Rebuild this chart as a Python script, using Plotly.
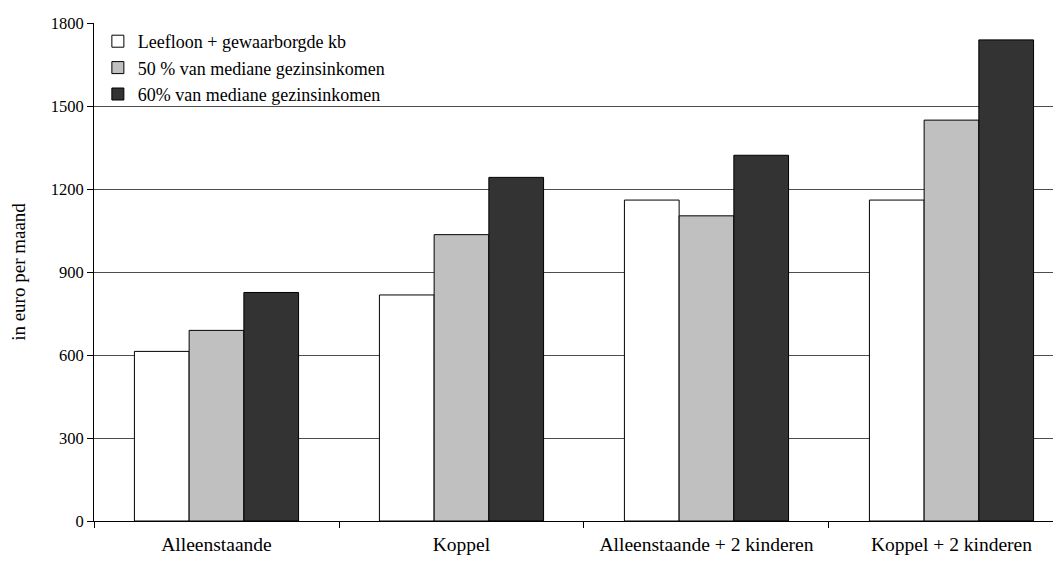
import plotly.graph_objects as go

categories = ["Alleenstaande", "Koppel", "Alleenstaande + 2 kinderen", "Koppel + 2 kinderen"]
series_names = ["Leefloon + gewaarborgde kb", "50 % van mediane gezinsinkomen", "60% van mediane gezinsinkomen"]
leefloon = [613, 817, 1160, 1160]
mediaan50 = [689, 1035, 1103, 1449]
mediaan60 = [826, 1242, 1322, 1739]
colors = ["#ffffff", "#c0c0c0", "#333333"]
y_ticks = [0, 300, 600, 900, 1200, 1500, 1800]

fig = go.Figure()
for name, vals, col in zip(series_names, [leefloon, mediaan50, mediaan60], colors):
    fig.add_trace(go.Bar(x=categories, y=vals, name=name, marker=dict(color=col, line=dict(color="#000000", width=1))))

font = "Liberation Serif, Times New Roman, serif"
fig.update_layout(
    width=1053, height=547,
    margin=dict(l=86, r=0, t=15, b=31),
    paper_bgcolor="white", plot_bgcolor="white",
    barmode="group", bargap=0.33, bargroupgap=0,
    font=dict(family=font, size=17, color="#000000"),
    showlegend=True,
    legend=dict(x=0.004, y=1.0, xanchor="left", yanchor="top", bgcolor="rgba(255,255,255,0)",
                font=dict(family=font, size=18), traceorder="normal", itemwidth=30, tracegroupgap=0),
    xaxis=dict(type="category", range=[-0.5, 3.447], tickson="boundaries", ticks="outside", ticklen=6,
               tickcolor="#000", showline=True, linecolor="#000", linewidth=1, showgrid=False,
               ticklabelstandoff=6, tickfont=dict(family=font, size=19.5)),
    yaxis=dict(range=[0, 1800], tickvals=y_ticks, ticks="outside", ticklen=6, tickcolor="#000",
               showline=True, linecolor="#000", linewidth=1, showgrid=True, gridcolor="#4d4d4d", gridwidth=1,
               zeroline=False, title=dict(text="in euro per maand", font=dict(family=font, size=19), standoff=26),
               tickfont=dict(family=font, size=16.5)),
)
fig.write_html("out.html")
